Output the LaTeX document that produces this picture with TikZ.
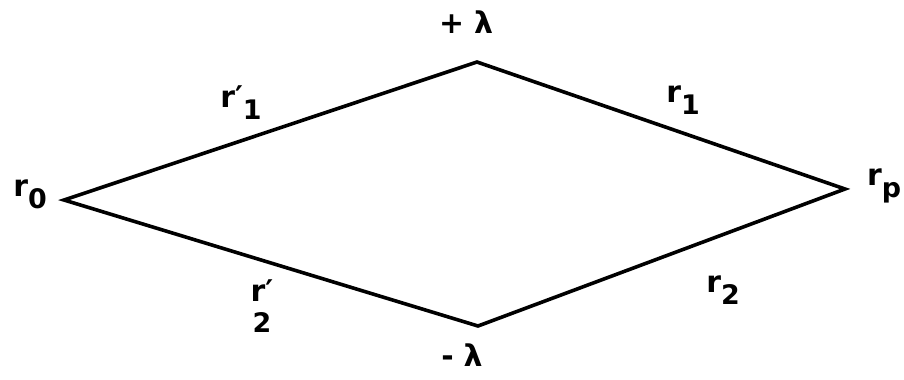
\documentclass[tikz,border=0pt]{standalone}
\usepackage{fontspec}
\setmainfont{DejaVu Sans}
\begin{document}
\begin{tikzpicture}[x={(1bp,0)},y={(0,-1bp)},
  lbl/.style={inner sep=0pt,font=\fontsize{30}{32}\selectfont\bfseries},
  edge/.style={line width=3.6bp,line join=miter}]
\useasboundingbox (0,0) rectangle (904,379);
\fill[white] (0,0) rectangle (904,379);
\coordinate (T) at (477,62);
\coordinate (L) at (64,200);
\coordinate (R) at (845,189);
\coordinate (B) at (478,326);
\draw[edge] (L) -- (T) -- (R) -- (B) -- cycle;
\newcommand{\sbx}[1]{\raisebox{-0.4em}{\fontsize{27}{28}\selectfont #1}}
\node[lbl] (pl) at (466,22) {+\,\,λ};
\node[lbl] (ml) at (462,355) {-\,\,λ};
\node[lbl] (r0) at (30,194) {r\sbx{0}};
\node[lbl] (rp) at (884,186) {r\sbx{p}};
\node[lbl] (r1a) at (241,103) {r′\sbx{1}};
\node[lbl,align=center] (r2a) at (262,306) {r′\\[-0.05em]\fontsize{27}{28}\selectfont 2};
\node[lbl] (r1b) at (683,100) {r\sbx{1}};
\node[lbl] (r2b) at (723,290) {r\sbx{2}};
\end{tikzpicture}
\end{document}
